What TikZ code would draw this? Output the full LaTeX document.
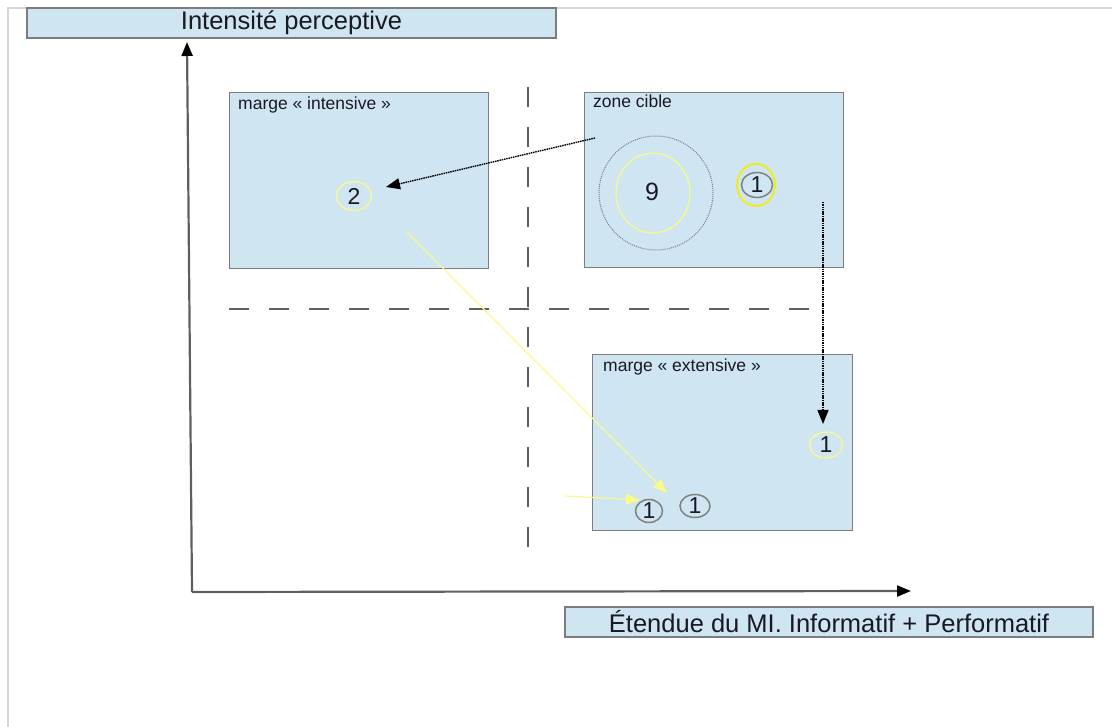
\documentclass[tikz,border=0pt]{standalone}
\usepackage{fontspec}
\setmainfont{Liberation Sans}
\usetikzlibrary{arrows.meta,shapes.geometric}
\definecolor{boxblue}{RGB}{207,229,242}
\definecolor{boxedge}{RGB}{125,125,125}
\definecolor{dashgray}{RGB}{95,95,95}
\definecolor{axisgray}{RGB}{95,95,95}
\definecolor{paleyellow}{RGB}{250,250,140}
\definecolor{brightyellow}{RGB}{240,235,30}
\definecolor{framegray}{RGB}{215,215,215}
\definecolor{txt}{RGB}{25,25,35}
\tikzset{
  zonebox/.style={draw=boxedge, line width=1.2pt, fill=boxblue, anchor=north west, inner sep=0pt},
  axislabel/.style={draw=boxedge, line width=1.2pt, fill=boxblue, inner sep=0pt, text=txt, font=\fontsize{25.5}{29}\selectfont},
  smalltxt/.style={anchor=base west, inner sep=0pt, text=txt, font=\fontsize{17.5}{20}\selectfont},
  numnode/.style={ellipse, inner sep=0pt, text=txt, font=\fontsize{23}{27}\selectfont},
  axisline/.style={draw=axisgray, line width=2.2pt, -{Triangle[length=14pt,width=11pt,color=black]}},
  quadline/.style={draw=dashgray, line width=2pt, dash pattern=on 20pt off 20pt},
  dotarrow/.style={draw=black, line width=1.4pt, dash pattern=on 1.5pt off 0.8pt, -{Triangle[length=14pt,width=11pt,fill=black]}},
  yelarrow/.style={draw=paleyellow, line width=1.2pt, -{Triangle[length=14pt,width=11pt,fill=paleyellow]}}
}
\begin{document}
\begin{tikzpicture}[x=1pt,y=-1pt]
\useasboundingbox (0,0) rectangle (1112,727);
% page frame
\draw[framegray, line width=2pt] (8,727) -- (8,8) -- (1112,8);

% axis labels
\node[axislabel, minimum width=529pt, minimum height=30pt] (ylab) at (291.5,23) {Intensité perceptive};
\node[axislabel, minimum width=528pt, minimum height=30pt] (xlab) at (829,622) {Étendue du MI. Informatif + Performatif};

% zones
\node[zonebox, minimum width=259pt, minimum height=176pt] (mi) at (229,92) {};
\node[zonebox, minimum width=259pt, minimum height=175pt] (zc) at (584,92) {};
\node[zonebox, minimum width=260pt, minimum height=176pt] (me) at (592,354) {};
\node[smalltxt] (milbl) at (238,110) {marge « intensive »};
\node[smalltxt] (zclbl) at (593,108) {zone cible};
\node[smalltxt] (melbl) at (603,372) {marge « extensive »};

% quadrant dashed lines
\coordinate (vd1) at (528,87);
\coordinate (vd2) at (528,560);
\coordinate (hd1) at (229,309);
\coordinate (hd2) at (825,309);
\draw[quadline] (vd1) -- (vd2);
\draw[quadline] (hd1) -- (hd2);

% axes
\coordinate (origin) at (192,592);
\coordinate (ytip) at (187,42);
\coordinate (xtip) at (911,591);
\draw[axisline] (origin) -- (ytip);
\draw[axisline] (origin) -- (xtip);

% zone cible content
\node[circle, draw=gray, densely dotted, line width=1pt, minimum size=114pt, inner sep=0pt] (big) at (656,193) {};
\node[ellipse, draw=paleyellow, line width=1.2pt, minimum width=74pt, minimum height=80pt, inner sep=0pt] (nine) at (653,193) {};
\node[font=\fontsize{25}{29}\selectfont, text=txt, inner sep=0pt] (ninetxt) at (652,192) {9};
\node[ellipse, draw=brightyellow, line width=2pt, minimum width=38pt, minimum height=42pt, inner sep=0pt] (oneYring) at (756,185) {};
\node[numnode, draw=gray, line width=1.5pt, minimum width=31pt, minimum height=25pt] (oneA) at (757,185) {1};

% marge intensive content
\node[numnode, draw=paleyellow, line width=1.3pt, minimum width=35pt, minimum height=29pt] (two) at (354,196) {2};

% marge extensive content
\node[numnode, draw=paleyellow, line width=1.3pt, minimum width=33pt, minimum height=26pt] (oneB) at (826,445) {1};
\node[numnode, draw=gray, line width=1.5pt, minimum width=27pt, minimum height=23pt] (oneC) at (649,511) {1};
\node[numnode, draw=gray, line width=1.5pt, minimum width=30pt, minimum height=23pt] (oneD) at (695,506) {1};

% connectors
\coordinate (a1s) at (595,138);
\coordinate (a1e) at (386,187);
\draw[dotarrow] (a1s) -- (a1e);
\coordinate (a2s) at (823,202);
\coordinate (a2e) at (823,424);
\draw[dotarrow] (a2s) -- (a2e);
\coordinate (y1s) at (407,232);
\coordinate (y1e) at (667,493);
\draw[yelarrow] (y1s) -- (y1e);
\coordinate (y2s) at (565,496);
\coordinate (y2e) at (640,500);
\draw[yelarrow] (y2s) -- (y2e);
\end{tikzpicture}
\end{document}
